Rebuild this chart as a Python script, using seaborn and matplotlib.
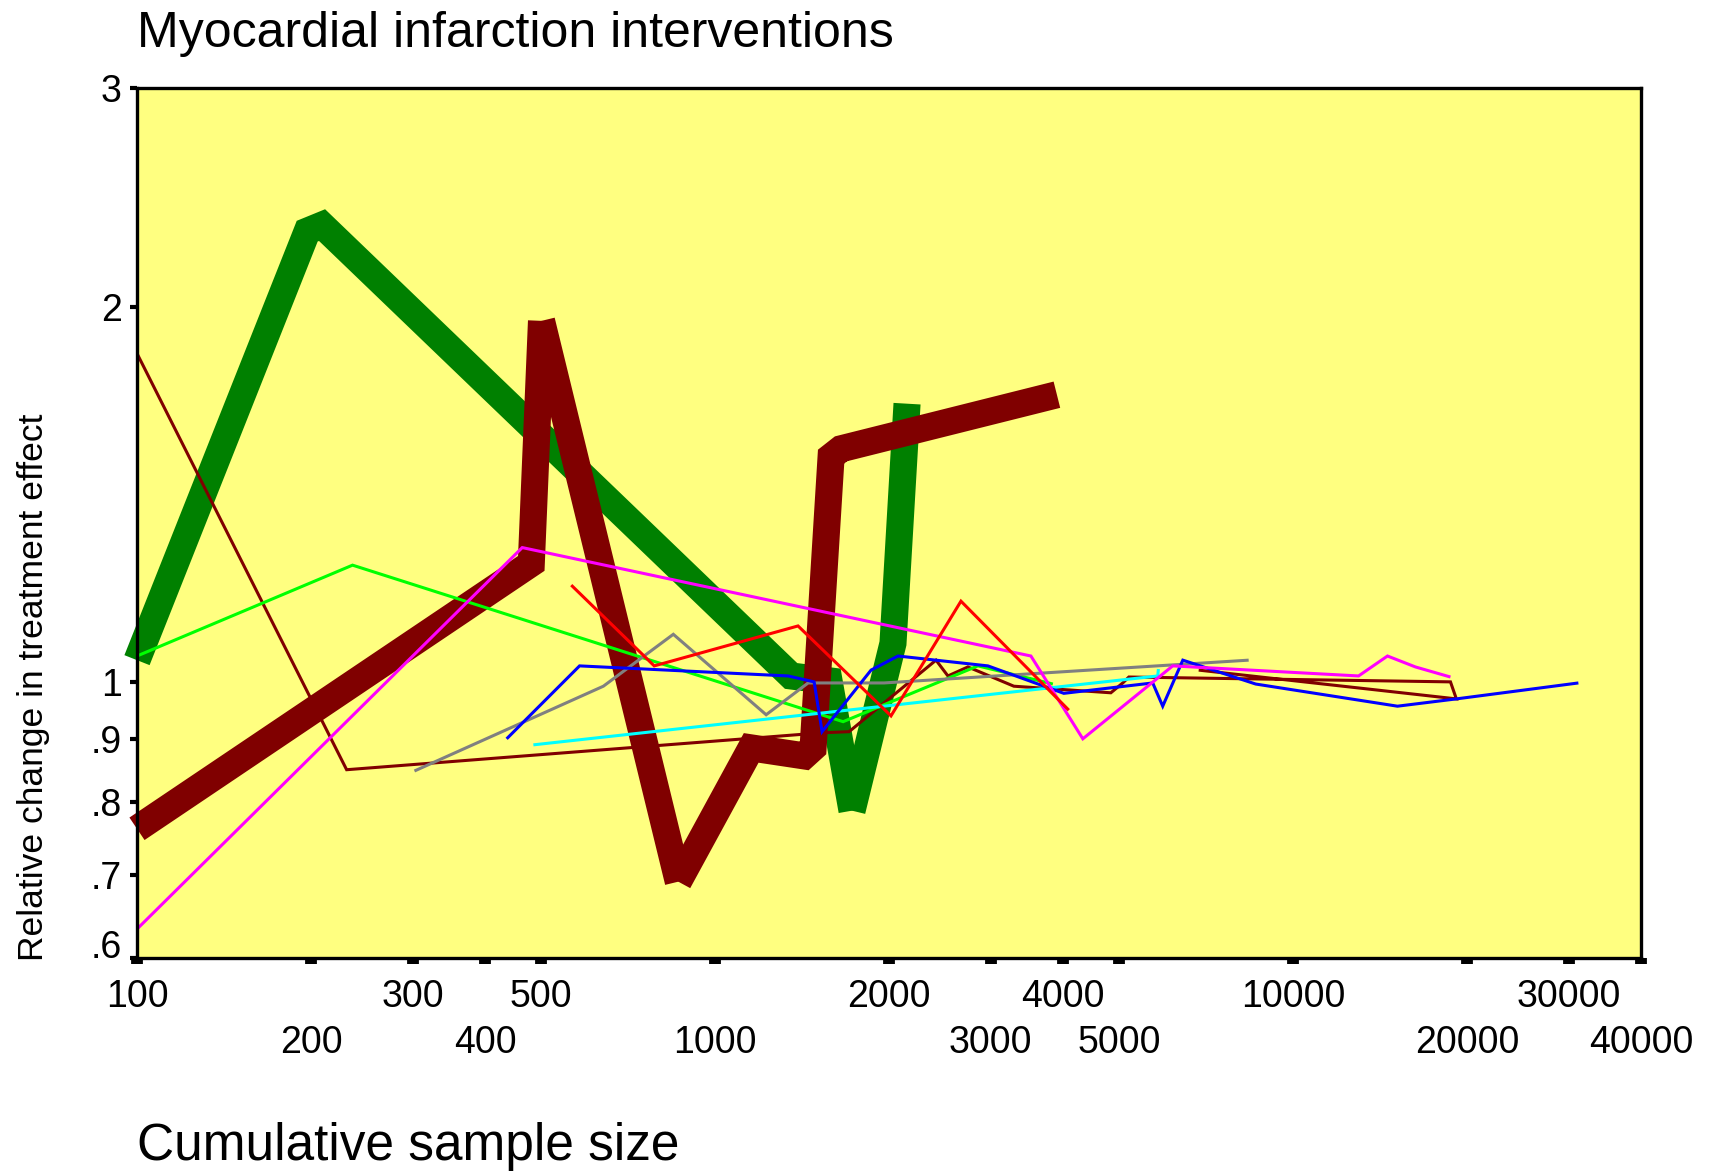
import matplotlib
matplotlib.use("Agg")
import matplotlib.pyplot as plt
import seaborn as sns
import pandas as pd

# ---------------- data ----------------
green_thick_x = [100, 197, 209, 1354, 1575, 1726, 2032, 2149]
green_thick_y = [1.041, 2.302, 2.328, 1.011, 1.002, 0.788, 1.074, 1.673]

maroon_thick_x = [100, 481, 501, 864, 1155, 1427, 1478, 1588, 1652, 3904]
maroon_thick_y = [0.762, 1.245, 1.950, 0.691, 0.885, 0.872, 0.885, 1.517, 1.539, 1.701]

maroon_x = [100, 230.5, 1526, 1706, 2412, 2529, 2739, 3289, 4840, 5075, 5200, 18725, 19170, 6868]
maroon_y = [1.836, 0.850, 0.910, 0.912, 1.041, 1.011, 1.028, 0.992, 0.980, 0.998, 1.009, 1.000, 0.969, 1.022]

lime_x = [100, 236, 1666, 2850, 3842]
lime_y = [1.049, 1.241, 0.929, 1.030, 0.996]

magenta_x = [100, 464, 3520, 4329, 6193, 12984, 14570, 16286, 18725]
magenta_y = [0.633, 1.282, 1.049, 0.900, 1.030, 1.011, 1.049, 1.028, 1.009]

red_x = [564, 785, 1392, 2016, 2664, 4094]
red_y = [1.196, 1.030, 1.109, 0.939, 1.161, 0.949]

gray_x = [302, 641, 847, 1226, 1449, 1961, 8381]
gray_y = [0.848, 0.992, 1.092, 0.941, 0.998, 0.998, 1.041]

blue_x = [436, 583, 1338, 1484, 1532, 1862, 2073, 2966, 4013, 5719, 5951, 6447, 8618, 15160, 19170, 31170]
blue_y = [0.900, 1.030, 1.011, 1.000, 0.912, 1.022, 1.049, 1.030, 0.979, 0.998, 0.956, 1.041, 0.996, 0.956, 0.969, 0.998]

cyan_x = [485, 5834, 5850]
cyan_y = [0.890, 1.011, 1.024]

x_ticks = [100, 200, 300, 400, 500, 1000, 2000, 3000, 4000, 5000, 10000, 20000, 30000, 40000]
x_tick_labels = ["100", "200", "300", "400", "500", "1000", "2000", "3000", "4000", "5000",
                 "10000", "20000", "30000", "40000"]
y_ticks = [0.6, 0.7, 0.8, 0.9, 1, 2, 3]
y_tick_labels = [".6", ".7", ".8", ".9", "1", "2", "3"]

title = "Myocardial infarction interventions"
x_title = "Cumulative sample size"
y_title = "Relative change in treatment effect"

# ---------------- styling ----------------
sns.set_style("white")
plt.rcParams["font.family"] = ["Liberation Sans", "DejaVu Sans"]
plt.rcParams["text.color"] = "black"
plt.rcParams["xtick.color"] = "black"
plt.rcParams["ytick.color"] = "black"
plt.rcParams["xtick.labelcolor"] = "black"
plt.rcParams["ytick.labelcolor"] = "black"

W, H = 1710, 1173
fig = plt.figure(figsize=(W / 100, H / 100), dpi=100)
fig.patch.set_facecolor("white")
L, R, T, B = 137, 1641, 88, 958
ax = fig.add_axes([L / W, 1 - B / H, (R - L) / W, (B - T) / H])
ax.set_facecolor("#FFFF80")

THICK = 19.5
THIN = 2.2

# (x, y, colour, width, clip, zorder, vertices where the stroke is restarted
#  so that very sharp turns end flat instead of in long miter spikes)
series = [
    (green_thick_x, green_thick_y, "#008000", THICK, False, 2, [5]),
    (maroon_thick_x, maroon_thick_y, "#800000", THICK, False, 3, [2, 3]),
    (maroon_x, maroon_y, "#800000", THIN, True, 4, []),
    (lime_x, lime_y, "#00FF00", THIN, True, 5, []),
    (gray_x, gray_y, "#808080", THIN, True, 5, []),
    (cyan_x, cyan_y, "#00FFFF", THIN, True, 5, []),
    (blue_x, blue_y, "#0000FF", THIN, True, 6, []),
    (magenta_x, magenta_y, "#FF00FF", THIN, False, 6, []),
    (red_x, red_y, "#FF0000", THIN, True, 7, []),
]

for xs, ys, col, lw, clip, z, breaks in series:
    cuts = [0] + breaks + [len(xs) - 1]
    for a, b in zip(cuts[:-1], cuts[1:]):
        df = pd.DataFrame({"x": xs[a:b + 1], "y": ys[a:b + 1]})
        sns.lineplot(data=df, x="x", y="y", sort=False, estimator=None, color=col,
                     linewidth=lw, ax=ax, clip_on=clip, zorder=z)

for ln in ax.lines:
    ln.set_solid_joinstyle("miter")
    ln.set_solid_capstyle("butt")

ax.set_xscale("log")
ax.set_yscale("log")
ax.set_xlim(100, 40000)
ax.set_ylim(0.6, 3)

ax.xaxis.set_major_locator(matplotlib.ticker.FixedLocator(x_ticks))
ax.xaxis.set_minor_locator(matplotlib.ticker.NullLocator())
ax.set_xticklabels(x_tick_labels)
ax.yaxis.set_major_locator(matplotlib.ticker.FixedLocator(y_ticks))
ax.yaxis.set_minor_locator(matplotlib.ticker.NullLocator())
ax.set_yticklabels(y_tick_labels)

PAD = 11
ax.tick_params(axis="x", direction="out", length=4, width=8.5, pad=PAD, labelsize=27,
               color="black", labelcolor="black", bottom=True)
ax.tick_params(axis="y", direction="out", length=5, width=3, pad=6, labelsize=27,
               color="black", labelcolor="black", left=True)
# staggered x tick labels: every second label on a lower row
for i, tk in enumerate(ax.xaxis.get_major_ticks()):
    if i % 2:
        tk.set_pad(PAD + 33)
# lowest y label sits on the axis line
ax.yaxis.get_major_ticks()[0].label1.set_verticalalignment("baseline")

for sp in ax.spines.values():
    sp.set_visible(True)
    sp.set_color("black")
    sp.set_linewidth(2.4)
    sp.set_zorder(10)

ax.set_xlabel("")
ax.set_ylabel("")

fig.text(L / W, 1 - 47 / H, title, fontsize=36, ha="left", va="baseline", color="black")
fig.text(L / W, 1 - 1160 / H, x_title, fontsize=37, ha="left", va="baseline", color="black")
fig.text(34 / W, 1 - 687 / H, y_title, fontsize=25.5, rotation=90, ha="center",
         va="center", color="black")

fig.savefig("out.png", dpi=100, facecolor="white")
